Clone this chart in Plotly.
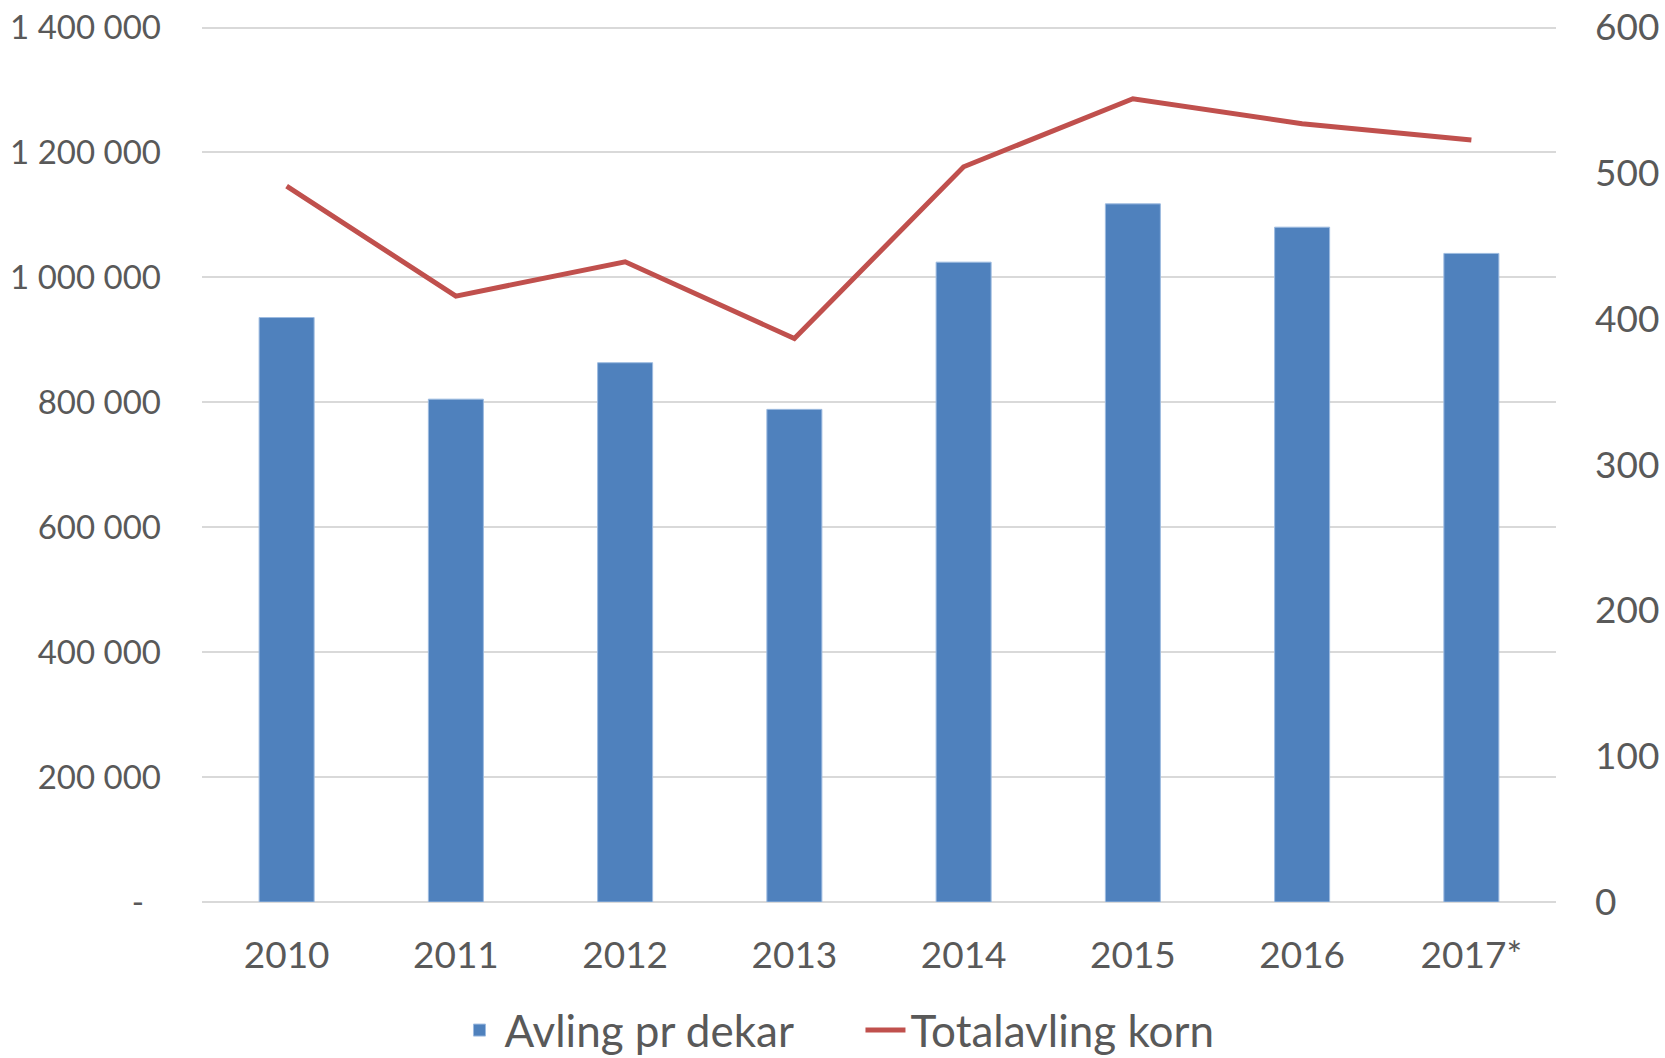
import plotly.graph_objects as go

# ---- data ----
years = ["2010", "2011", "2012", "2013", "2014", "2015", "2016", "2017*"]
avling_pr_dekar = [401, 345, 370, 338, 439, 479, 463, 445]          # kg per dekar (right axis)
totalavling_korn = [1146000, 970000, 1025000, 902000, 1177000, 1286000, 1246000, 1220000]  # tonn (left axis)

left_tick_vals = [0, 200000, 400000, 600000, 800000, 1000000, 1200000, 1400000]
left_tick_text = ["-\u00a0\u00a0", "200 000", "400 000", "600 000", "800 000",
                  "1 000 000", "1 200 000", "1 400 000"]
right_tick_vals = [0, 100, 200, 300, 400, 500, 600]

FONT = "Lato"
GREY = "#595959"
LEFT_MAX = 1404000
RIGHT_MAX = 600 * LEFT_MAX / 1400000

fig = go.Figure()
fig.add_trace(go.Bar(
    x=years, y=avling_pr_dekar, name="Avling pr dekar", yaxis="y2",
    marker=dict(color="#4F81BD", line=dict(color="#9dbbe0", width=1)),
))
fig.add_trace(go.Scatter(
    x=years, y=totalavling_korn, name="Totalavling korn", yaxis="y",
    mode="lines", line=dict(color="#C0504D", width=5),
))

fig.update_layout(
    width=1665, height=1058,
    margin=dict(l=202, r=109, t=25, b=156, autoexpand=False),
    paper_bgcolor="white", plot_bgcolor="white",
    font=dict(family=FONT, color=GREY),
    bargap=0.675,
    showlegend=True,
    legend=dict(
        orientation="h", xref="container", yref="container",
        x=0.5168, xanchor="center", y=0.026, yanchor="middle",
        font=dict(size=44, color=GREY, family=FONT),
        itemwidth=40, traceorder="normal",
        entrywidth=351, entrywidthmode="pixels",
    ),
    xaxis=dict(
        type="category", showgrid=False, showline=False, zeroline=False,
        ticks="", tickfont=dict(size=37, color=GREY), ticklabelstandoff=28,
        automargin=False,
    ),
    yaxis=dict(
        range=[0, LEFT_MAX], tickvals=left_tick_vals, ticktext=left_tick_text,
        showgrid=True, gridcolor="#d9d9d9", gridwidth=2,
        zeroline=True, zerolinecolor="#d9d9d9", zerolinewidth=2,
        showline=False, ticks="", tickfont=dict(size=33, color=GREY),
        ticklabelstandoff=40, automargin=False,
    ),
    yaxis2=dict(
        range=[0, RIGHT_MAX], tickvals=right_tick_vals, overlaying="y", side="right",
        showgrid=False, zeroline=False, showline=False, ticks="",
        tickfont=dict(size=37, color=GREY), ticklabelstandoff=38,
        automargin=False,
    ),
)

fig.write_html(
    "out.html",
    config={"displayModeBar": False},
    post_script="document.body.style.margin='0';document.body.style.overflow='hidden';",
)
